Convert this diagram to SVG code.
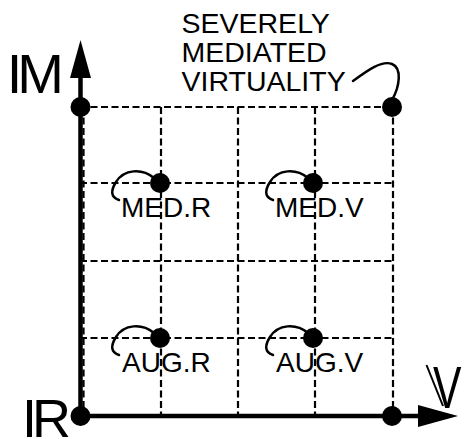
<svg xmlns="http://www.w3.org/2000/svg" width="465" height="439" viewBox="0 0 465 439">
<style>
.grid{stroke:#000;stroke-width:2.2;stroke-dasharray:7 3.5;fill:none}
.axis{stroke:#000;stroke-width:4.5;fill:none}
.dot{fill:#000}
.lead{stroke:#000;stroke-width:2.5;fill:none;stroke-linecap:round}
.lbl{font-family:"Liberation Sans",Arial,sans-serif;font-size:28px;fill:#000}
.big{font-family:"Liberation Sans",Arial,sans-serif;font-size:56px;fill:#000}
</style>
<rect width="465" height="439" fill="#fff"/>
<g id="grid">
<line class="grid" x1="80" y1="107" x2="393" y2="107"/>
<line class="grid" x1="80" y1="183" x2="393" y2="183"/>
<line class="grid" x1="80" y1="261" x2="393" y2="261"/>
<line class="grid" x1="80" y1="338" x2="393" y2="338"/>
<line class="grid" x1="83.5" y1="107" x2="83.5" y2="416"/>
<line class="grid" x1="161" y1="107" x2="161" y2="416"/>
<line class="grid" x1="238" y1="107" x2="238" y2="416"/>
<line class="grid" x1="315" y1="107" x2="315" y2="416"/>
<line class="grid" x1="393" y1="107" x2="393" y2="416"/>
</g>
<g id="axes">
<line class="axis" x1="80.5" y1="416" x2="80.5" y2="76"/>
<polygon points="80.5,40 70,78 91,78" fill="#000"/>
<line class="axis" x1="80" y1="416" x2="420" y2="416"/>
<polygon points="458,416 418,405 418,427" fill="#000"/>
</g>
<g id="connectors">
<path class="lead" d="M353,81 C368,70 382,60 392,64 C402,68 400,86 392,100"/>
<path class="lead" d="M154,178 C142,168 124,169 116,182 C111,190 110,197 119,200"/>
<path class="lead" d="M308,178 C296,168 278,169 270,182 C265,190 264,197 273,200"/>
<path class="lead" d="M154,333 C142,323 124,324 116,337 C111,345 110,352 119,355"/>
<path class="lead" d="M308,333 C296,323 278,324 270,337 C265,345 264,352 273,355"/>
</g>
<g id="node-im"><text class="big" x="6.7" y="93" style="letter-spacing:-5px">IM</text></g>
<g id="node-ir"><text class="big" x="22" y="437" style="font-size:54px;letter-spacing:-5px">IR</text></g>
<g id="node-v">
<text class="big" transform="translate(433,408) scale(0.71,1)" x="0" y="0" style="font-size:60px">V</text>
<line x1="426.5" y1="365" x2="443" y2="406" stroke="#000" stroke-width="2"/>
</g>
<g id="node-smv">
<text class="lbl" x="181.5" y="33" style="font-size:28.5px">SEVERELY</text>
<text class="lbl" x="181.5" y="62" style="font-size:28.5px">MEDIATED</text>
<text class="lbl" x="181.5" y="91" style="font-size:28.5px">VIRTUALITY</text>
<circle class="dot" cx="392" cy="107" r="10"/>
</g>
<g id="node-origin-m"><circle class="dot" cx="80.5" cy="107" r="10"/></g>
<g id="node-origin-r"><circle class="dot" cx="80.5" cy="416" r="10"/></g>
<g id="node-origin-v"><circle class="dot" cx="392" cy="416" r="10"/></g>
<g id="node-medr"><circle class="dot" cx="160" cy="183" r="10"/><text class="lbl" x="121" y="217">MED.R</text></g>
<g id="node-medv"><circle class="dot" cx="313" cy="183" r="10"/><text class="lbl" x="275" y="217">MED.V</text></g>
<g id="node-augr"><circle class="dot" cx="160" cy="338" r="10"/><text class="lbl" x="122" y="372">AUG.R</text></g>
<g id="node-augv"><circle class="dot" cx="313" cy="338" r="10"/><text class="lbl" x="276" y="372">AUG.V</text></g>
</svg>
